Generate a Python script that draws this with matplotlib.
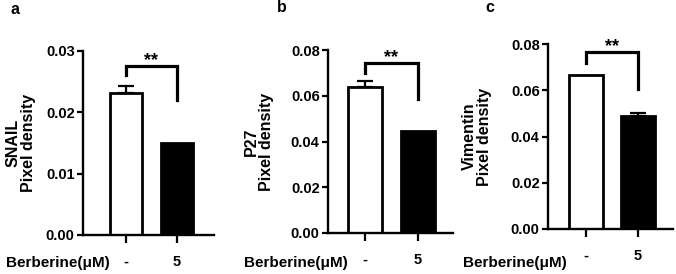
import matplotlib
matplotlib.use('Agg')
import matplotlib.pyplot as plt

plt.rcParams['font.family'] = ['Liberation Sans', 'DejaVu Sans']
plt.rcParams['font.weight'] = 'bold'

# data
groups = ['-', '5']
snail = [0.0232, 0.0150]
snail_err = [0.0011, 0.0]
p27 = [0.0638, 0.0446]
p27_err = [0.0025, 0.0]
vimentin = [0.0666, 0.0489]
vimentin_err = [0.0, 0.0013]

panel_letters = ['a', 'b', 'c']
ylabels = ['SNAIL\nPixel density', 'P27\nPixel density', 'Vimentin\nPixel density']
ymax = [0.03, 0.08, 0.08]
yticks = [[0, 0.01, 0.02, 0.03], [0, 0.02, 0.04, 0.06, 0.08], [0, 0.02, 0.04, 0.06, 0.08]]
# significance bracket: top, left-leg bottom, right-leg bottom
brackets = [(0.02755, 0.0261, 0.0220), (0.0743, 0.0699, 0.0586), (0.0765, 0.0718, 0.0605)]

W, H = 676, 274
fig = plt.figure(figsize=(W / 100, H / 100), dpi=100)

# axes boxes in pixels: left, right, top, bottom, and the two bar centres
boxes = [(83, 214, 51, 235, 126, 177),
         (328, 453, 50, 233, 365, 418),
         (548, 673, 44, 229, 586, 638)]
label_x = [36, 274, 492]
berb_x = [58, 296, 515]
letter_pos = [(15, 10), (282, 8), (490, 7)]

values = [snail, p27, vimentin]
errors = [snail_err, p27_err, vimentin_err]

for i in range(3):
    l, r, t, b, c1, c2 = boxes[i]
    ax = fig.add_axes([l / W, 1 - b / H, (r - l) / W, (b - t) / H])
    sp = c2 - c1
    ax.set_xlim(-(c1 - l) / sp, 1 + (r - c2) / sp)
    ax.set_ylim(0, ymax[i])

    ax.bar([0, 1], values[i], width=0.64, color=['white', 'black'],
           edgecolor='black', linewidth=2.0, zorder=2)
    # upper error bars only, skip groups with no visible error
    for j in range(2):
        if errors[i][j] > 0:
            ax.errorbar([j], [values[i][j]], yerr=[[0], [errors[i][j]]], fmt='none',
                        ecolor='black', elinewidth=1.6, capsize=6, capthick=1.6, zorder=1)

    top, lb, rb = brackets[i]
    ax.plot([0, 0, 1, 1], [lb, top, top, rb], color='black', lw=2.3,
            clip_on=False, solid_joinstyle='miter')
    ax.text(0.5, top + ymax[i] * 0.004, '**', ha='center', va='baseline',
            fontsize=13, fontweight='bold')

    for s in ['top', 'right']:
        ax.spines[s].set_visible(False)
    for s in ['left', 'bottom']:
        ax.spines[s].set_linewidth(1.7)

    ax.set_yticks(yticks[i])
    ax.set_yticklabels(['%.2f' % v for v in yticks[i]])
    ax.set_xticks([0, 1])
    ax.set_xticklabels(groups)
    ax.tick_params(axis='y', length=4.5, width=1.6, labelsize=10.5, pad=1.5)
    ax.tick_params(axis='x', length=6, width=1.6, labelsize=10.5, pad=8.5)

    ax.set_ylabel(ylabels[i], fontsize=11.5, fontweight='bold', linespacing=1.0)
    ax.yaxis.set_label_coords((label_x[i] - l) / (r - l), 0.5)

    fig.text(berb_x[i] / W, 1 - 263 / H, 'Berberine(\u03bcM)', ha='center', va='center',
             fontsize=11, fontweight='bold')
    lx, ly = letter_pos[i]
    fig.text(lx / W, 1 - ly / H, panel_letters[i], ha='center', va='center',
             fontsize=11.5, fontweight='bold')

fig.savefig('out.png', dpi=100)
